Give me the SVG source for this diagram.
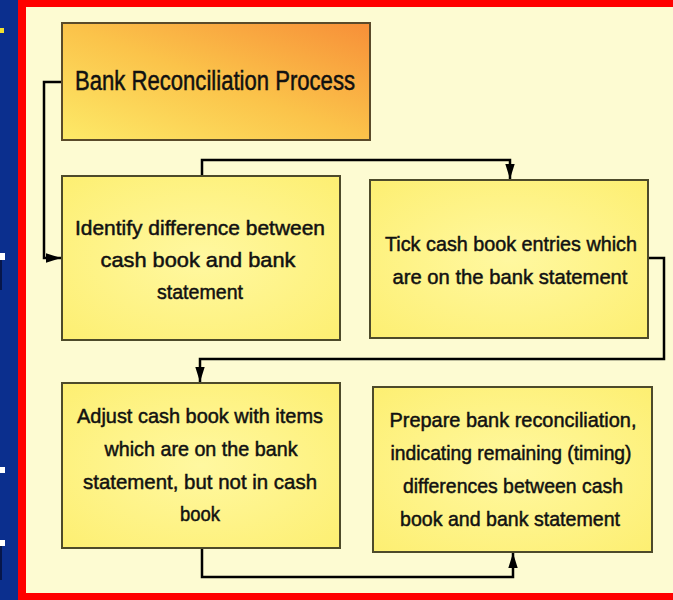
<svg xmlns="http://www.w3.org/2000/svg" width="673" height="600" viewBox="0 0 673 600">
<defs>
<linearGradient id="gTitle" x1="0" y1="1" x2="1" y2="0">
<stop offset="0" stop-color="#FDEA68"/>
<stop offset="0.5" stop-color="#FBC34A"/>
<stop offset="1" stop-color="#F78F38"/>
</linearGradient>
<radialGradient id="gBox" cx="0.5" cy="0.5" r="0.7">
<stop offset="0" stop-color="#FFF8A0"/>
<stop offset="1" stop-color="#FDEF72"/>
</radialGradient>
<marker id="arr" viewBox="0 0 16 10" refX="16" refY="5" markerWidth="6" markerHeight="3.8" orient="auto" markerUnits="strokeWidth">
<path d="M0,0 L16,5 L0,10 z" fill="#000"/>
</marker>
</defs>
<style>
.box{fill:url(#gBox);stroke:#4d4a2a;stroke-width:2}
.t{font-family:"Comic Sans MS","Liberation Sans",sans-serif;font-size:21px;fill:#111;stroke:#111;stroke-width:0.5;text-anchor:middle}
.conn{fill:none;stroke:#000;stroke-width:2.5;marker-end:url(#arr)}
</style>
<rect x="0" y="0" width="673" height="600" fill="#FDFBD2"/>
<rect x="0" y="0" width="18" height="600" fill="#0B2F8E"/>
<rect x="0" y="28" width="4" height="5" fill="#F2E030"/>
<rect x="0" y="253" width="5" height="7" fill="#fff"/>
<rect x="0" y="260" width="2" height="30" fill="#06164a"/>
<rect x="0" y="467" width="5" height="6" fill="#fff"/>
<rect x="0" y="540" width="5" height="6" fill="#fff"/>
<rect x="0" y="546" width="2" height="34" fill="#06164a"/>
<rect x="18" y="0" width="655" height="7" fill="#FF0000"/>
<rect x="18" y="0" width="8" height="600" fill="#FF0000"/>
<rect x="18" y="593" width="655" height="7" fill="#FF0000"/>

<g id="connectors">
<path class="conn" d="M62,82 H44 V258 H61"/>
<path class="conn" d="M202,176 V160 H510 V179"/>
<path class="conn" d="M648,258 H664 V359 H200 V382"/>
<path class="conn" d="M202,548 V577 H513 V553"/>
</g>

<g id="title">
<rect x="62" y="23" width="308" height="117" fill="url(#gTitle)" stroke="#5a4a2a" stroke-width="2"/>
<text class="t" x="215" y="90" textLength="280" lengthAdjust="spacingAndGlyphs" style="font-size:27px">Bank Reconciliation Process</text>
</g>

<g id="step1">
<rect class="box" x="62" y="176" width="278" height="164"/>
<text class="t" x="200" y="235" textLength="250" lengthAdjust="spacingAndGlyphs">Identify difference between</text>
<text class="t" x="198" y="267" textLength="195" lengthAdjust="spacingAndGlyphs">cash book and bank</text>
<text class="t" x="200" y="299" textLength="86" lengthAdjust="spacingAndGlyphs">statement</text>
</g>

<g id="step2">
<rect class="box" x="370" y="180" width="278" height="158"/>
<text class="t" x="511" y="251" textLength="252" lengthAdjust="spacingAndGlyphs">Tick cash book entries which</text>
<text class="t" x="510" y="284" textLength="235" lengthAdjust="spacingAndGlyphs">are on the bank statement</text>
</g>

<g id="step3">
<rect class="box" x="62" y="383" width="278" height="165"/>
<text class="t" x="200" y="423" textLength="246" lengthAdjust="spacingAndGlyphs">Adjust cash book with items</text>
<text class="t" x="201" y="456" textLength="193" lengthAdjust="spacingAndGlyphs">which are on the bank</text>
<text class="t" x="200" y="489" textLength="234" lengthAdjust="spacingAndGlyphs">statement, but not in cash</text>
<text class="t" x="200" y="521" textLength="40" lengthAdjust="spacingAndGlyphs">book</text>
</g>

<g id="step4">
<rect class="box" x="373" y="387" width="279" height="165"/>
<text class="t" x="513" y="427" textLength="247" lengthAdjust="spacingAndGlyphs">Prepare bank reconciliation,</text>
<text class="t" x="511" y="460" textLength="241" lengthAdjust="spacingAndGlyphs">indicating remaining (timing)</text>
<text class="t" x="513" y="493" textLength="220" lengthAdjust="spacingAndGlyphs">differences between cash</text>
<text class="t" x="510" y="526" textLength="220" lengthAdjust="spacingAndGlyphs">book and bank statement</text>
</g>
</svg>
